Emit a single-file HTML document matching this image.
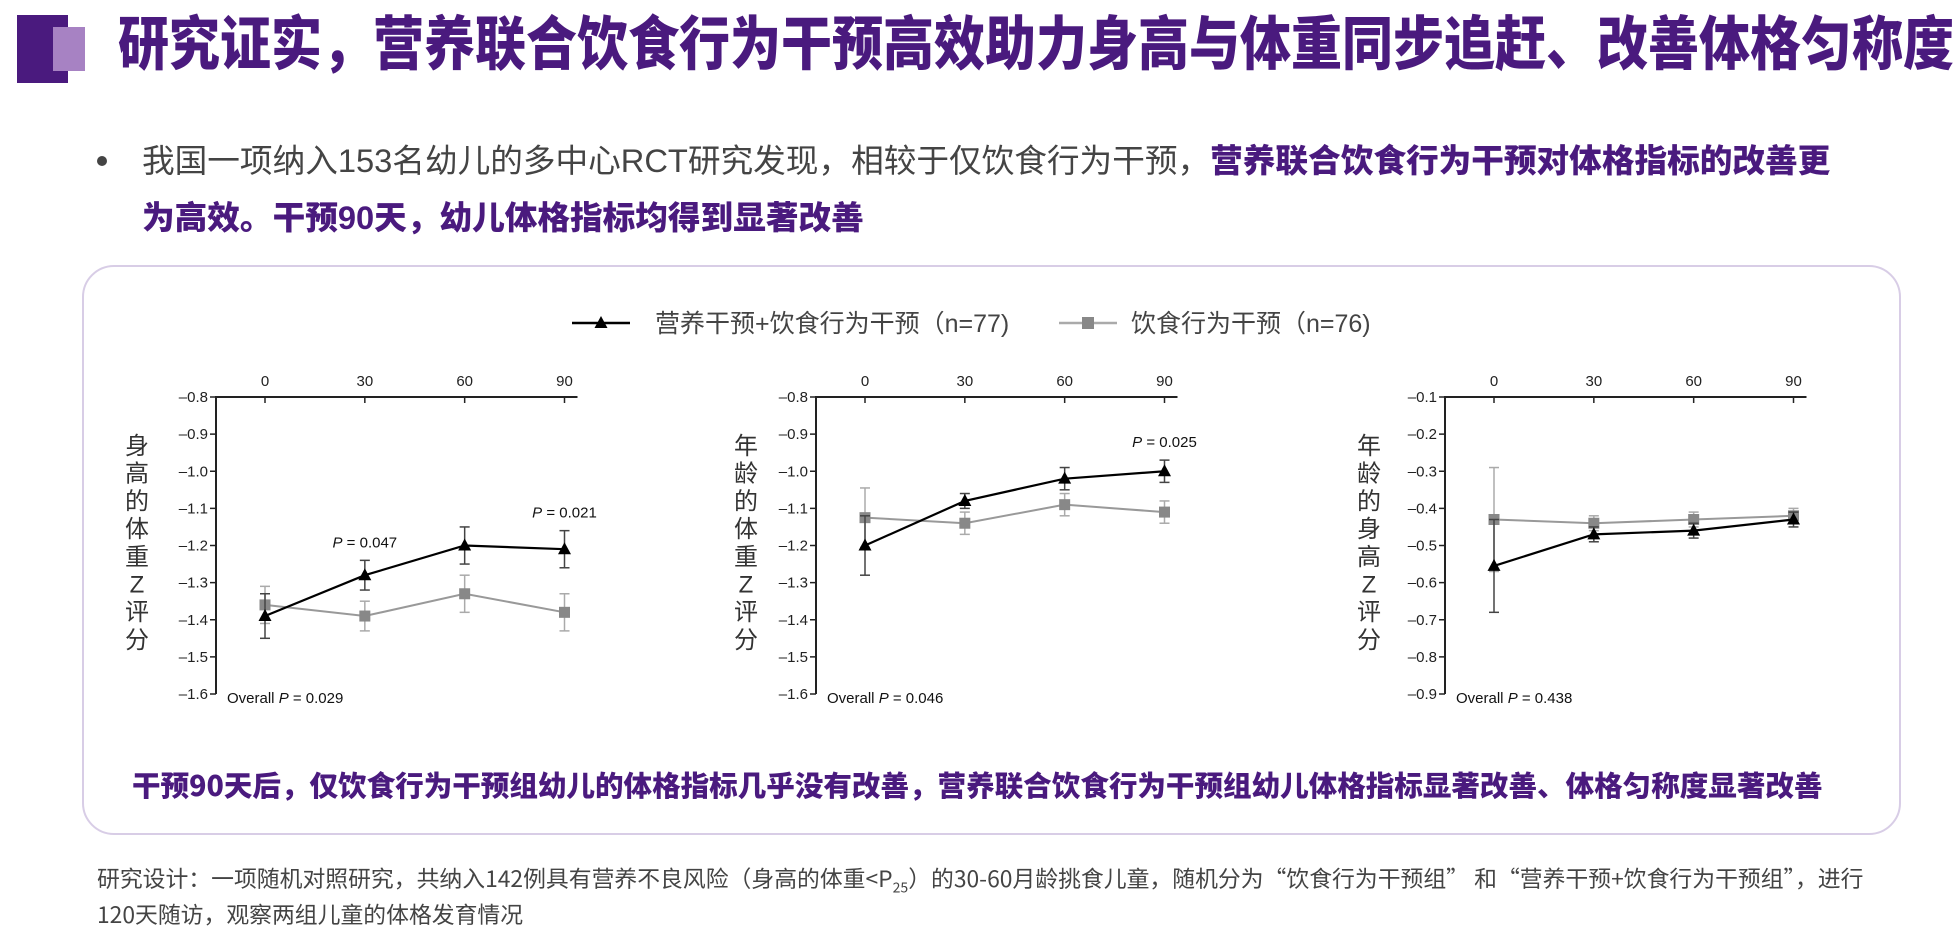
<!DOCTYPE html>
<html><head><meta charset="utf-8">
<style>
html,body{margin:0;padding:0;background:#fff;}
body{width:1954px;height:920px;position:relative;overflow:hidden;font-family:"Liberation Sans","Noto Sans CJK SC",sans-serif;}
.abs{position:absolute;white-space:nowrap;}
.title{left:118px;top:4px;font-size:53px;font-weight:900;color:#4a1a7e;line-height:70px;transform:scaleY(1.15);transform-origin:left center;font-family:"Noto Sans CJK SC",sans-serif;}
.bul{font-size:32.5px;color:#444;line-height:57px;left:142px;top:132px;}
.bul b{color:#4a1a7e;font-weight:900;}
.box{left:82px;top:265px;width:1819px;height:570px;border:2px solid #d8cde6;border-radius:32px;box-sizing:border-box;}
.concl{left:132px;top:765px;font-size:29px;font-weight:900;color:#4a1a7e;line-height:40px;font-family:"Noto Sans CJK SC",sans-serif;}
.foot{left:97px;top:865px;font-size:21px;color:#444;line-height:25px;font-family:"Noto Sans CJK SC",sans-serif;}
.fit{display:inline-block;}
</style></head>
<body>
<div class="abs" style="left:17px;top:15px;width:51px;height:68px;background:#4a1a7e;"></div>
<div class="abs" style="left:53px;top:27px;width:32px;height:44px;background:#a782c3;"></div>
<div class="abs title" id="title">研究证实，营养联合饮食行为干预高效助力身高与体重同步追赶、改善体格匀称度</div>
<div class="abs" style="left:97px;top:156px;width:10px;height:10px;border-radius:50%;background:#444;"></div>
<div class="abs bul" id="bul"><span id="bul1" class="fit">我国一项纳入153名幼儿的多中心RCT研究发现，相较于仅饮食行为干预，<b>营养联合饮食行为干预对体格指标的改善更</b></span><br><b>为高效。干预90天，幼儿体格指标均得到显著改善</b></div>
<div class="abs box"></div>
<div class="abs concl" id="concl">干预90天后，仅饮食行为干预组幼儿的体格指标几乎没有改善，营养联合饮食行为干预组幼儿体格指标显著改善、体格匀称度显著改善</div>
<div class="abs foot" id="foot"><span id="foot1" class="fit">研究设计：一项随机对照研究，共纳入142例具有营养不良风险（身高的体重&lt;P<sub style="font-size:14px">25</sub>）的30-60月龄挑食儿童，随机分为“饮食行为干预组” 和“营养干预+饮食行为干预组”，进行</span><br>120天随访，观察两组儿童的体格发育情况</div>

<svg id="charts" width="1954" height="920" style="position:absolute;left:0;top:0;" xmlns="http://www.w3.org/2000/svg"></svg>

<script>
const days = [0, 30, 60, 90];
const xTickLabels = ["0", "30", "60", "90"];
const c1Combined = [-1.39, -1.28, -1.20, -1.21];
const c1CombinedErr = [0.06, 0.04, 0.05, 0.05];
const c1Diet = [-1.36, -1.39, -1.33, -1.38];
const c1DietErr = [0.05, 0.04, 0.05, 0.05];
const c1YTicks = [-0.8, -0.9, -1.0, -1.1, -1.2, -1.3, -1.4, -1.5, -1.6];
const c2Combined = [-1.20, -1.08, -1.02, -1.00];
const c2CombinedErr = [0.08, 0.02, 0.03, 0.03];
const c2Diet = [-1.125, -1.14, -1.09, -1.11];
const c2DietErr = [0.08, 0.03, 0.03, 0.03];
const c2YTicks = [-0.8, -0.9, -1.0, -1.1, -1.2, -1.3, -1.4, -1.5, -1.6];
const c3Combined = [-0.555, -0.47, -0.46, -0.43];
const c3CombinedErr = [0.125, 0.02, 0.02, 0.02];
const c3Diet = [-0.43, -0.44, -0.43, -0.42];
const c3DietErr = [0.14, 0.02, 0.02, 0.02];
const c3YTicks = [-0.1, -0.2, -0.3, -0.4, -0.5, -0.6, -0.7, -0.8, -0.9];
const yTitles = ["身高的体重Z评分", "年龄的体重Z评分", "年龄的身高Z评分"];
const overallP = ["0.029", "0.046", "0.438"];
const pNotes1 = [{i:1, v:"0.047"}, {i:3, v:"0.021"}];
const pNotes2 = [{i:3, v:"0.025"}];
const pNotes3 = [];

function fitTo(el, sizeEl, target){
  const fs = parseFloat(getComputedStyle(sizeEl).fontSize);
  const w = el.getBoundingClientRect().width;
  if (w > 0) sizeEl.style.fontSize = (fs * target / w) + 'px';
}
(function(){
  const t = document.getElementById('title');
  t.style.display = 'inline-block';
  fitTo(t, t, 1836);
  fitTo(document.getElementById('bul1'), document.getElementById('bul'), 1689);
  const c = document.getElementById('concl');
  c.style.display = 'inline-block';
  fitTo(c, c, 1691);
  fitTo(document.getElementById('foot1'), document.getElementById('foot'), 1768);
})();

const svg = document.getElementById('charts');
const NS = 'http://www.w3.org/2000/svg';
function mk(tag, attrs, parent){
  const e = document.createElementNS(NS, tag);
  for (const k in attrs) e.setAttribute(k, attrs[k]);
  (parent||svg).appendChild(e);
  return e;
}
function fmt(v){ return '\u2013' + Math.abs(v).toFixed(1); }

const charts = [
  {ax:216, yt:c1YTicks, comb:c1Combined, combE:c1CombinedErr, diet:c1Diet, dietE:c1DietErr, notes:pNotes1, tx:137},
  {ax:816, yt:c2YTicks, comb:c2Combined, combE:c2CombinedErr, diet:c2Diet, dietE:c2DietErr, notes:pNotes2, tx:746},
  {ax:1445, yt:c3YTicks, comb:c3Combined, combE:c3CombinedErr, diet:c3Diet, dietE:c3DietErr, notes:pNotes3, tx:1369}
];
const TOP = 397, BOT = 694;

charts.forEach((c, ci) => {
  const g = mk('g', {});
  
  
  const ymax = c.yt[0], ymin = c.yt[c.yt.length-1];
  const ys = v => TOP + (ymax - v) / (ymax - ymin) * (BOT - TOP);
  const x0 = c.ax + 49, dx = (299.5) / 90;
  const xs = d => x0 + d * dx;
  const xEnd = xs(90) + 13;
  const ya = mk('line', {x1:c.ax, y1:TOP, x2:c.ax, y2:BOT, stroke:'#222', 'stroke-width':2}, g);
  
  
  const xa = mk('line', {x1:c.ax-1, y1:TOP, x2:xEnd, y2:TOP, stroke:'#222', 'stroke-width':2}, g);
  
  
  c.yt.forEach(v => {
    mk('line', {x1:c.ax-6, y1:ys(v), x2:c.ax, y2:ys(v), stroke:'#222', 'stroke-width':1.5}, g);
    const t = mk('text', {x:c.ax-8, y:ys(v)+5, 'text-anchor':'end', 'font-size':15, fill:'#222'}, g);
    
    
    t.textContent = fmt(v);
  });
  days.forEach((d, i) => {
    mk('line', {x1:xs(d), y1:TOP, x2:xs(d), y2:TOP+6, stroke:'#222', 'stroke-width':1.5}, g);
    const t = mk('text', {x:xs(d), y:TOP-11, 'text-anchor':'middle', 'font-size':15, fill:'#222'}, g);
    
    
    t.textContent = xTickLabels[i];
  });
  const chars = Array.from(yTitles[ci]);
  chars.forEach((ch, k) => {
    const t = mk('text', {x:c.tx, y:445 + k*27.7 + 9, 'text-anchor':'middle', 'font-size':24, fill:'#333', 'font-family':'"Liberation Sans","Noto Sans CJK SC",sans-serif'}, g);
    
    
    t.textContent = ch;
  });
  function series(vals, errs, col, ecol, lw, marker, name){
    const sg = mk('g', {}, g);
    
    
    vals.forEach((v, i) => {
      const x = xs(days[i]);
      mk('line', {x1:x, y1:ys(v-errs[i]), x2:x, y2:ys(v+errs[i]), stroke:ecol, 'stroke-width':1.5}, sg);
      mk('line', {x1:x-5, y1:ys(v-errs[i]), x2:x+5, y2:ys(v-errs[i]), stroke:ecol, 'stroke-width':1.5}, sg);
      mk('line', {x1:x-5, y1:ys(v+errs[i]), x2:x+5, y2:ys(v+errs[i]), stroke:ecol, 'stroke-width':1.5}, sg);
    });
    const pts = vals.map((v, i) => xs(days[i]) + ',' + ys(v)).join(' ');
    mk('polyline', {points:pts, fill:'none', stroke:col, 'stroke-width':lw}, sg);
    vals.forEach((v, i) => {
      const x = xs(days[i]), y = ys(v);
      let m;
      if (marker === 'tri') m = mk('polygon', {points:`${x},${y-7} ${x-6.5},${y+5} ${x+6.5},${y+5}`, fill:'#000'}, sg);
      else m = mk('rect', {x:x-5.5, y:y-5.5, width:11, height:11, fill:'#888'}, sg);
      
      
    });
  }
  series(c.diet, c.dietE, '#999', '#aaa', 2, 'sq', 'series-diet');
  series(c.comb, c.combE, '#000', '#444', 2.2, 'tri', 'series-combined');
  c.notes.forEach(n => {
    const x = xs(days[n.i]);
    const y = ys(c.comb[n.i] + c.combE[n.i]) - 13;
    const t = mk('text', {x:x, y:y, 'text-anchor':'middle', 'font-size':15, fill:'#111'}, g);
    
    
    t.innerHTML = '<tspan font-style="italic">P</tspan> = ' + n.v;
  });
  const o = mk('text', {x:c.ax+11, y:703, 'font-size':15, fill:'#111'}, g);
  
  
  o.innerHTML = 'Overall <tspan font-style="italic">P</tspan> = ' + overallP[ci];
});

const lg = mk('g', {});


const l1 = mk('g', {}, lg);


mk('line', {x1:572, y1:323, x2:630, y2:323, stroke:'#000', 'stroke-width':2.5}, l1);
mk('polygon', {points:'601,316 594.5,328 607.5,328', fill:'#000'}, l1);
const lt1 = mk('text', {x:655, y:332, 'font-size':25, fill:'#444'}, l1);
lt1.textContent = '营养干预+饮食行为干预（n=77)';
const l2 = mk('g', {}, lg);


mk('line', {x1:1059, y1:323, x2:1117, y2:323, stroke:'#aaa', 'stroke-width':2.5}, l2);
mk('rect', {x:1082, y:317, width:12, height:12, fill:'#888'}, l2);
const lt2 = mk('text', {x:1131, y:332, 'font-size':25, fill:'#444'}, l2);
lt2.textContent = '饮食行为干预（n=76)';
</script>
</body></html>
